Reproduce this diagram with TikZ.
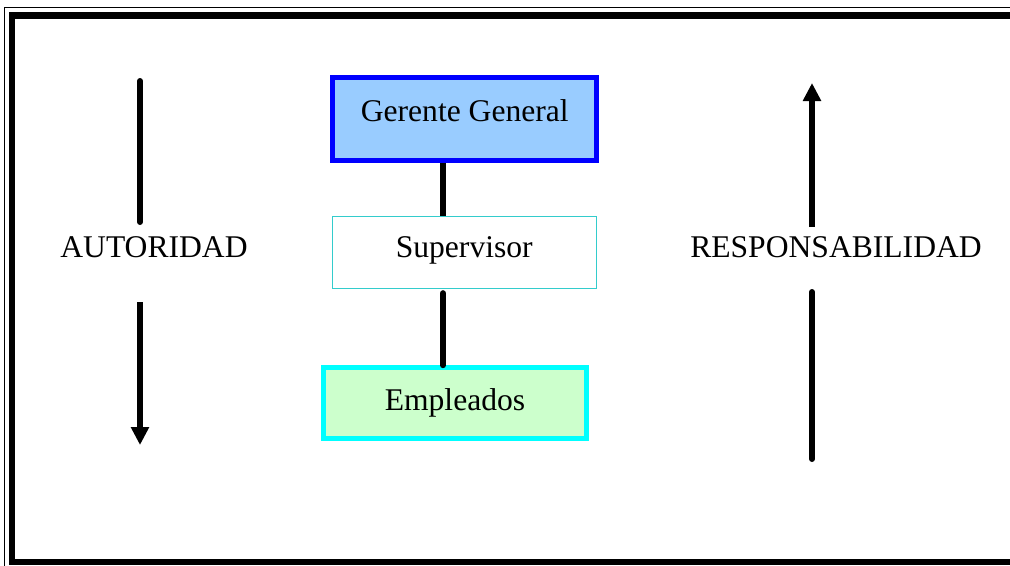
\documentclass[tikz,border=0pt]{standalone}
\usepackage{fontspec}
\setmainfont{Liberation Serif}
\usetikzlibrary{arrows.meta}
\definecolor{ggdraw}{HTML}{0000FF}
\definecolor{ggfill}{HTML}{99CCFF}
\definecolor{supdraw}{HTML}{33CCCC}
\definecolor{empdraw}{HTML}{00FFFF}
\definecolor{empfill}{HTML}{CCFFCC}
\newcommand{\bigtext}{\fontsize{23.7}{28}\selectfont}
\tikzset{
  orgbox/.style   = {draw,inner sep=0pt,font=\bigtext,text depth=0pt},
  sidelabel/.style= {anchor=base,inner sep=0pt,font=\bigtext},
  linkline/.style = {line width=4.5pt},
  flowarr/.style  = {line width=4.5pt,line cap=round},
  tipped/.style   = {line width=4.5pt,-{Triangle[length=13.5pt,width=13pt]}}
}

\begin{document}
\begin{tikzpicture}[x=0.75pt,y=-0.75pt]
  \useasboundingbox (0,0) rectangle (1010,565);
  \clip (0,0) rectangle (1010,565);
  % double frame
  \draw[line width=1.1pt] (4.5,620) -- (4.5,7.5) -- (1100,7.5);
  \draw[line width=4.9pt] (12,15.5) rectangle (1060,562);
  % chart boxes
  \node[orgbox,draw=ggdraw,fill=ggfill,line width=3.7pt,
        minimum width=198pt,minimum height=62pt,text height=3pt]
        (gg) at (464.75,119) {Gerente General};
  \node[orgbox,draw=supdraw,fill=white,line width=1pt,
        minimum width=198pt,minimum height=54pt,text height=6.75pt]
        (sup) at (464.25,252.5) {Supervisor};
  \node[orgbox,draw=empdraw,fill=empfill,line width=3.7pt,
        minimum width=197pt,minimum height=53pt,text height=10.5pt]
        (emp) at (455,403) {Empleados};
  \coordinate (linkx) at (443,0);
  \draw[linkline] (gg.south -| linkx) -- (sup.north -| linkx);
  \draw[linkline,line cap=round,shorten <=3pt] (sup.south -| linkx) -- (emp.north -| linkx);
  % side labels and arrows
  \node[sidelabel] (aut) at (154,257) {AUTORIDAD};
  \node[sidelabel] (resp) at (836,257) {RESPONSABILIDAD};
  \coordinate (autA) at (140,81);
  \coordinate (autB) at (140,222);
  \coordinate (autC) at (140,302);
  \coordinate (autD) at (140,445);
  \draw[flowarr] (autA) -- (autB);
  \draw[tipped] (autC) -- (autD);
  \coordinate (respA) at (812,459);
  \coordinate (respB) at (812,292);
  \coordinate (respC) at (812,227);
  \coordinate (respD) at (812,83);
  \draw[flowarr] (respA) -- (respB);
  \draw[tipped] (respC) -- (respD);
\end{tikzpicture}
\end{document}
